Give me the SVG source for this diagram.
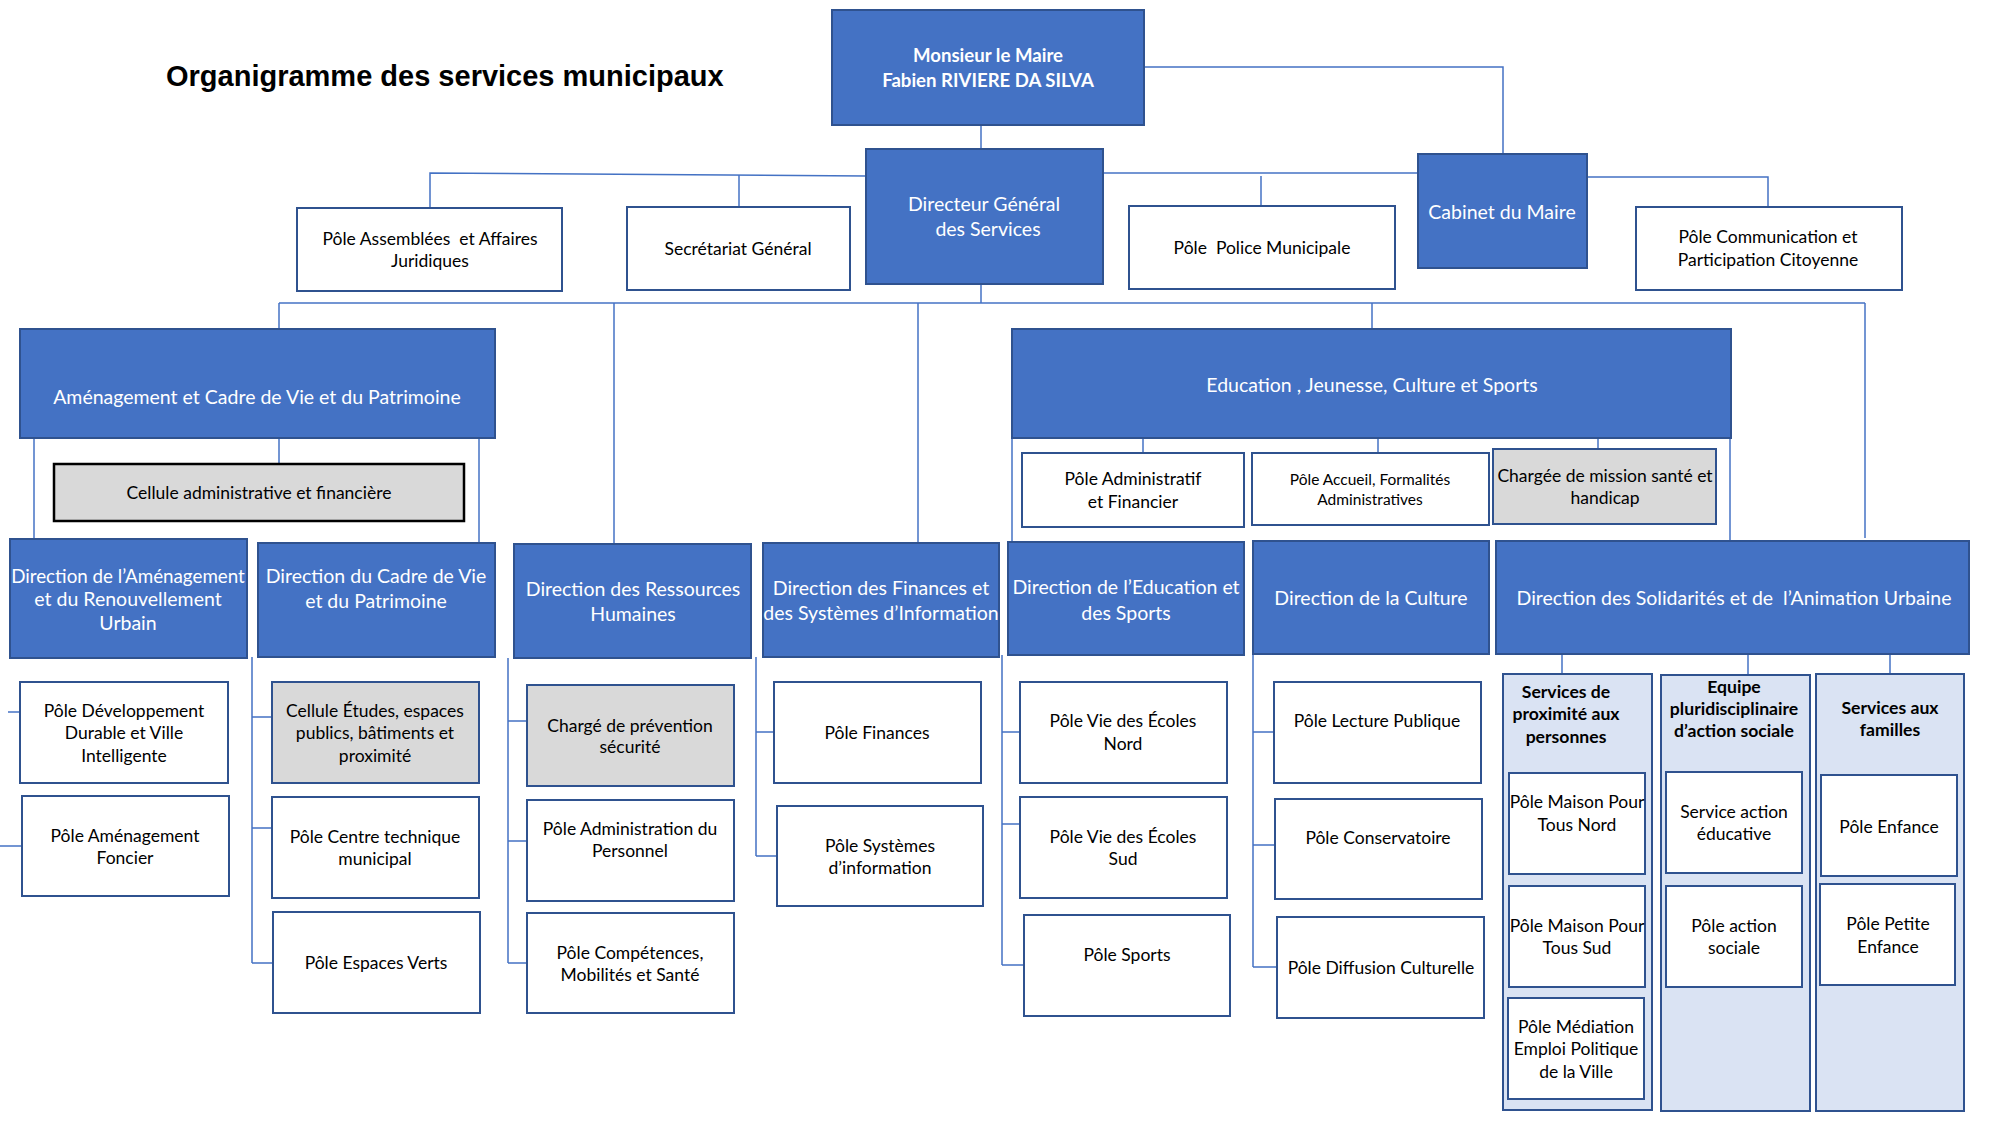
<svg xmlns="http://www.w3.org/2000/svg" width="2000" height="1125" viewBox="0 0 2000 1125">
<style>
.bg{fill:#ffffff}
.blue{fill:#4472C4;stroke:#2F528F;stroke-width:2}
.box{fill:#ffffff;stroke:#2F528F;stroke-width:2}
.gray{fill:#D9D9D9;stroke:#2F528F;stroke-width:2}
.grayk{fill:#D9D9D9;stroke:#000000;stroke-width:2.5}
.light{fill:#DAE3F3;stroke:#2F528F;stroke-width:2}
.conn path{fill:none;stroke:#4472C4;stroke-width:1.5}
text{font-family:Lato,"Liberation Sans",sans-serif;text-anchor:middle;white-space:pre}
.t{font-size:17.5px;fill:#000000}
.s{font-size:15.5px;fill:#000000}
.h{font-size:17.6px;font-weight:bold;fill:#000000}
.w{font-size:19.5px;fill:#ffffff}
.wn{font-size:18.8px;fill:#ffffff}
.wb{font-size:18.6px;font-weight:bold;fill:#ffffff}
.title{font-family:"Liberation Sans",Arial,sans-serif;font-size:29px;font-weight:bold;text-anchor:start;fill:#000000}
</style>
<rect class="bg" x="0" y="0" width="2000" height="1125"/>
<text class="title" x="166" y="86">Organigramme des services municipaux</text>

<g id="connectors" class="conn">
<path d="M1144,67 H1503 V154"/>
<path d="M981,125 V149"/>
<path d="M430,208 V173 L866,176"/>
<path d="M739,175 V207"/>
<path d="M1103,173 H1418"/>
<path d="M1261,176 V206"/>
<path d="M1587,177 H1768 V207"/>
<path d="M981,284 V303"/>
<path d="M279,303 H1865"/>
<path d="M279,303 V329"/>
<path d="M614,303 V544"/>
<path d="M918,303 V543"/>
<path d="M1372,303 V329"/>
<path d="M1865,303 V538"/>
<path d="M279,438 V464"/>
<path d="M34,438 V539"/>
<path d="M479,438 V543"/>
<path d="M1143,438 V453"/>
<path d="M1378,438 V453"/>
<path d="M1598,438 V449"/>
<path d="M1012,438 V542"/>
<path d="M1730,438 V541"/>
<path d="M8,712 H20"/>
<path d="M0,846 H22"/>
<path d="M252,657 V963 M252,717 H272 M252,828 H272 M252,963 H273"/>
<path d="M508,658 V963 M508,721 H527 M508,841 H527 M508,963 H527"/>
<path d="M756,657 V856 M756,732 H774 M756,856 H777"/>
<path d="M1002,655 V965 M1002,732 H1020 M1002,824 H1020 M1002,965 H1024"/>
<path d="M1253,654 V967 M1253,732 H1274 M1253,845 H1275 M1253,967 H1277"/>
<path d="M1562,654 V674"/>
<path d="M1748,654 V675"/>
<path d="M1890,654 V674"/>
</g>

<g id="maire"><rect class="blue" x="832" y="10" width="312" height="115"/>
<text class="wb" x="988" y="62">Monsieur le Maire</text><text class="wb" x="988" y="87">Fabien RIVIERE DA SILVA</text></g>
<g id="dgs"><rect class="blue" x="866" y="149" width="237" height="135"/>
<text class="w" x="984" y="211">Directeur Général</text><text class="w" x="988" y="236">des Services</text></g>
<g id="assemblees"><rect class="box" x="297" y="208" width="265" height="83"/>
<text class="t" x="430" y="245">Pôle Assemblées  et Affaires</text><text class="t" x="430" y="267">Juridiques</text></g>
<g id="secretariat"><rect class="box" x="627" y="207" width="223" height="83"/>
<text class="t" x="738" y="255">Secrétariat Général</text></g>
<g id="police"><rect class="box" x="1129" y="206" width="266" height="83"/>
<text class="t" x="1262" y="254">Pôle  Police Municipale</text></g>
<g id="cabinet"><rect class="blue" x="1418" y="154" width="169" height="114"/>
<text class="w" x="1502" y="219">Cabinet du Maire</text></g>
<g id="communication"><rect class="box" x="1636" y="207" width="266" height="83"/>
<text class="t" x="1768" y="243">Pôle Communication et</text><text class="t" x="1768" y="266">Participation Citoyenne</text></g>

<g id="amenagement"><rect class="blue" x="20" y="329" width="475" height="109"/>
<text class="w" x="257" y="404">Aménagement et Cadre de Vie et du Patrimoine</text></g>
<g id="cellule-admin"><rect class="grayk" x="54" y="464" width="410" height="57"/>
<text class="t" x="259" y="499">Cellule administrative et financière</text></g>
<g id="dir-amenagement"><rect class="blue" x="10" y="539" width="237" height="119"/>
<text class="wn" x="128" y="583">Direction de l’Aménagement</text><text class="w" x="128" y="606">et du Renouvellement</text><text class="w" x="128" y="630">Urbain</text></g>
<g id="dir-cadre"><rect class="blue" x="258" y="543" width="237" height="114"/>
<text class="w" x="376" y="583">Direction du Cadre de Vie</text><text class="w" x="376" y="608">et du Patrimoine</text></g>
<g id="dir-rh"><rect class="blue" x="514" y="544" width="237" height="114"/>
<text class="w" x="633" y="596">Direction des Ressources</text><text class="w" x="633" y="621">Humaines</text></g>
<g id="dir-finances"><rect class="blue" x="763" y="543" width="236" height="114"/>
<text class="w" x="881" y="595">Direction des Finances et</text><text class="w" x="881" y="620">des Systèmes d’Information</text></g>

<g id="education"><rect class="blue" x="1012" y="329" width="719" height="109"/>
<text class="w" x="1372" y="392">Education , Jeunesse, Culture et Sports</text></g>
<g id="pole-admin-fin"><rect class="box" x="1022" y="453" width="222" height="74"/>
<text class="t" x="1133" y="485">Pôle Administratif</text><text class="t" x="1133" y="508">et Financier</text></g>
<g id="pole-accueil"><rect class="box" x="1252" y="453" width="237" height="72"/>
<text class="s" x="1370" y="485">Pôle Accueil, Formalités</text><text class="s" x="1370" y="505">Administratives</text></g>
<g id="chargee-mission"><rect class="gray" x="1493" y="449" width="223" height="75"/>
<text class="t" x="1605" y="482">Chargée de mission santé et</text><text class="t" x="1605" y="504">handicap</text></g>
<g id="dir-education"><rect class="blue" x="1008" y="542" width="236" height="113"/>
<text class="w" x="1126" y="594">Direction de l’Education et</text><text class="w" x="1126" y="620">des Sports</text></g>
<g id="dir-culture"><rect class="blue" x="1253" y="541" width="236" height="113"/>
<text class="w" x="1371" y="605">Direction de la Culture</text></g>
<g id="dir-solidarites"><rect class="blue" x="1496" y="541" width="473" height="113"/>
<text class="w" x="1734" y="605">Direction des Solidarités et de  l’Animation Urbaine</text></g>

<g id="pole-dev-durable"><rect class="box" x="20" y="682" width="208" height="101"/>
<text class="t" x="124" y="717">Pôle Développement</text><text class="t" x="124" y="739">Durable et Ville</text><text class="t" x="124" y="762">Intelligente</text></g>
<g id="pole-amen-foncier"><rect class="box" x="22" y="796" width="207" height="100"/>
<text class="t" x="125" y="842">Pôle Aménagement</text><text class="t" x="125" y="864">Foncier</text></g>
<g id="cellule-etudes"><rect class="gray" x="272" y="682" width="207" height="101"/>
<text class="t" x="375" y="717">Cellule Études, espaces</text><text class="t" x="375" y="739">publics, bâtiments et</text><text class="t" x="375" y="762">proximité</text></g>
<g id="pole-centre-tech"><rect class="box" x="272" y="797" width="207" height="101"/>
<text class="t" x="375" y="843">Pôle Centre technique</text><text class="t" x="375" y="865">municipal</text></g>
<g id="pole-espaces-verts"><rect class="box" x="273" y="912" width="207" height="101"/>
<text class="t" x="376" y="969">Pôle Espaces Verts</text></g>
<g id="charge-prevention"><rect class="gray" x="527" y="685" width="207" height="101"/>
<text class="t" x="630" y="732">Chargé de prévention</text><text class="t" x="630" y="753">sécurité</text></g>
<g id="pole-admin-perso"><rect class="box" x="527" y="800" width="207" height="101"/>
<text class="t" x="630" y="835">Pôle Administration du</text><text class="t" x="630" y="857">Personnel</text></g>
<g id="pole-competences"><rect class="box" x="527" y="913" width="207" height="100"/>
<text class="t" x="630" y="959">Pôle Compétences,</text><text class="t" x="630" y="981">Mobilités et Santé</text></g>
<g id="pole-finances"><rect class="box" x="774" y="682" width="207" height="101"/>
<text class="t" x="877" y="739">Pôle Finances</text></g>
<g id="pole-systemes"><rect class="box" x="777" y="806" width="206" height="100"/>
<text class="t" x="880" y="852">Pôle Systèmes</text><text class="t" x="880" y="874">d’information</text></g>

<g id="pole-ecoles-nord"><rect class="box" x="1020" y="682" width="207" height="101"/>
<text class="t" x="1123" y="727">Pôle Vie des Écoles</text><text class="t" x="1123" y="750">Nord</text></g>
<g id="pole-ecoles-sud"><rect class="box" x="1020" y="797" width="207" height="101"/>
<text class="t" x="1123" y="843">Pôle Vie des Écoles</text><text class="t" x="1123" y="865">Sud</text></g>
<g id="pole-sports"><rect class="box" x="1024" y="915" width="206" height="101"/>
<text class="t" x="1127" y="961">Pôle Sports</text></g>
<g id="pole-lecture"><rect class="box" x="1274" y="682" width="207" height="101"/>
<text class="t" x="1377" y="727">Pôle Lecture Publique</text></g>
<g id="pole-conservatoire"><rect class="box" x="1275" y="799" width="207" height="100"/>
<text class="t" x="1378" y="844">Pôle Conservatoire</text></g>
<g id="pole-diffusion"><rect class="box" x="1277" y="917" width="207" height="101"/>
<text class="t" x="1381" y="974">Pôle Diffusion Culturelle</text></g>

<g id="grp-proximite"><rect class="light" x="1503" y="674" width="149" height="436"/>
<text class="h" x="1566" y="698">Services de</text><text class="h" x="1566" y="720">proximité aux</text><text class="h" x="1566" y="743">personnes</text></g>
<g id="grp-equipe"><rect class="light" x="1661" y="675" width="149" height="436"/>
<text class="h" x="1734" y="693">Equipe</text><text class="h" x="1734" y="715">pluridisciplinaire</text><text class="h" x="1734" y="737">d’action sociale</text></g>
<g id="grp-familles"><rect class="light" x="1816" y="674" width="148" height="437"/>
<text class="h" x="1890" y="714">Services aux</text><text class="h" x="1890" y="736">familles</text></g>
<g id="pole-mpt-nord"><rect class="box" x="1509" y="773" width="136" height="101"/>
<text class="t" x="1577" y="808">Pôle Maison Pour</text><text class="t" x="1577" y="831">Tous Nord</text></g>
<g id="pole-mpt-sud"><rect class="box" x="1509" y="886" width="136" height="101"/>
<text class="t" x="1577" y="932">Pôle Maison Pour</text><text class="t" x="1577" y="954">Tous Sud</text></g>
<g id="pole-mediation"><rect class="box" x="1508" y="998" width="136" height="101"/>
<text class="t" x="1576" y="1033">Pôle Médiation</text><text class="t" x="1576" y="1055">Emploi Politique</text><text class="t" x="1576" y="1078">de la Ville</text></g>
<g id="service-action-edu"><rect class="box" x="1666" y="772" width="136" height="101"/>
<text class="t" x="1734" y="818">Service action</text><text class="t" x="1734" y="840">éducative</text></g>
<g id="pole-action-sociale"><rect class="box" x="1666" y="886" width="136" height="101"/>
<text class="t" x="1734" y="932">Pôle action</text><text class="t" x="1734" y="954">sociale</text></g>
<g id="pole-enfance"><rect class="box" x="1821" y="775" width="136" height="101"/>
<text class="t" x="1889" y="833">Pôle Enfance</text></g>
<g id="pole-petite-enfance"><rect class="box" x="1820" y="884" width="135" height="101"/>
<text class="t" x="1888" y="930">Pôle Petite</text><text class="t" x="1888" y="953">Enfance</text></g>
</svg>
